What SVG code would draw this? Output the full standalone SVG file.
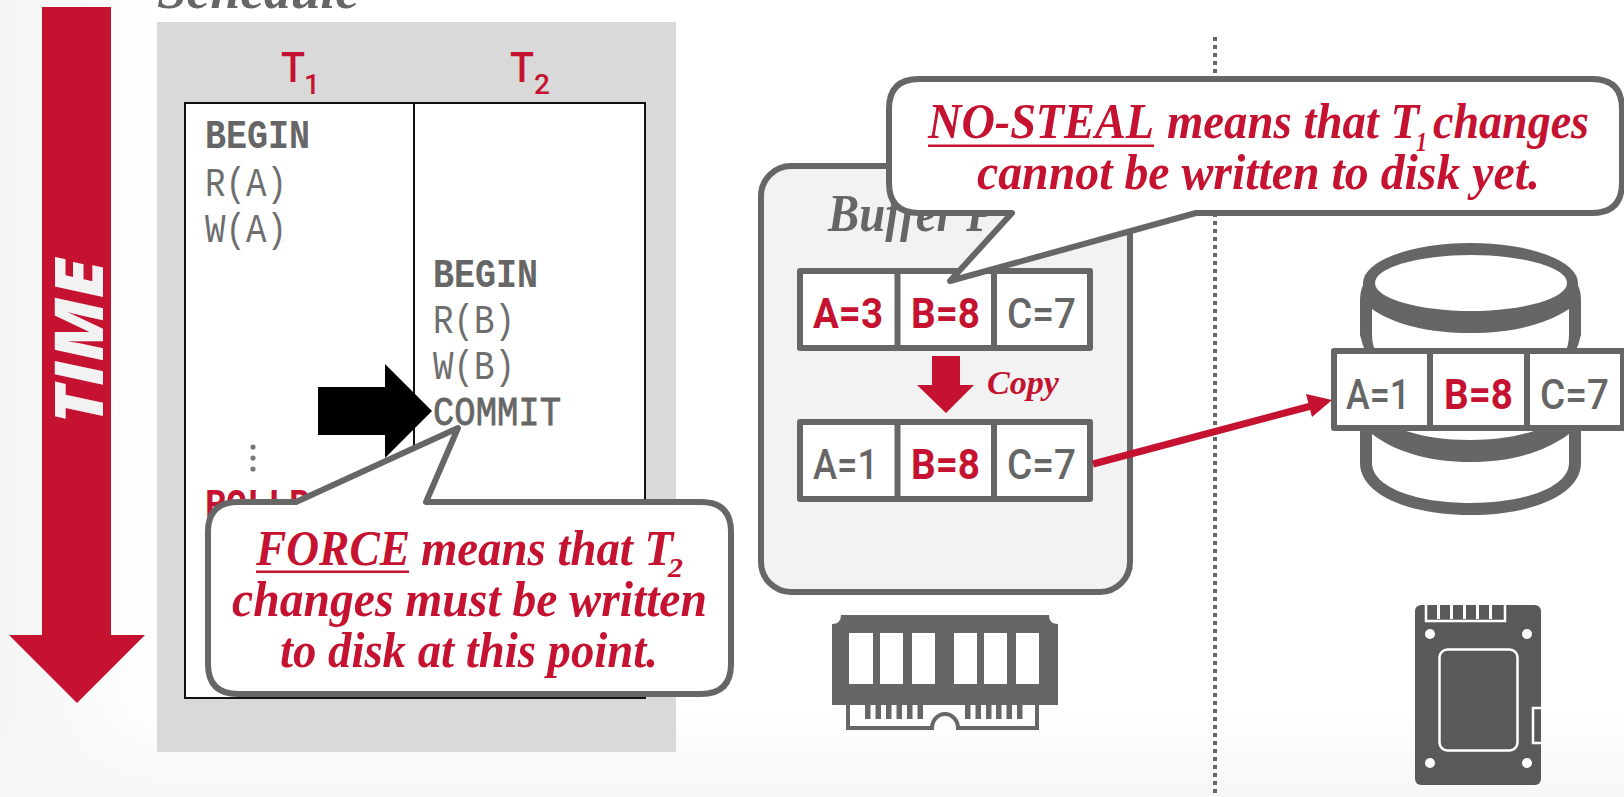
<svg xmlns="http://www.w3.org/2000/svg" width="1624" height="797" viewBox="0 0 1624 797">
<style>
.red{fill:#c41230}.gr{fill:#666}
.mono{font-family:"Liberation Mono","DejaVu Sans Mono",monospace;font-size:41px}
.b{font-weight:700}
.lt{fill:#6e6e6e}
.cell{font-family:Roboto,"Open Sans",sans-serif;font-size:42px;font-weight:500}
.cb{font-weight:700}
.ser{font-family:"Liberation Serif",serif;font-style:italic;font-weight:700}
.call{font-size:50px;fill:#c41230}
.subt{font-family:Roboto,"Open Sans",sans-serif;font-weight:500;fill:#c41230}
.box{fill:#fff;stroke:#666;stroke-width:6;stroke-linejoin:round}
.tb{fill:#fff;stroke:#666;stroke-width:6;stroke-linejoin:round}
</style>
<defs>
<linearGradient id="gl" x1="0" x2="1" y1="0" y2="0"><stop offset="0" stop-color="#f4f4f4"/><stop offset="1" stop-color="#fff"/></linearGradient>
<linearGradient id="gb" x1="0" x2="0" y1="0" y2="1"><stop offset="0" stop-color="#f7f7f7" stop-opacity="0"/><stop offset="1" stop-color="#f7f7f7"/></linearGradient>
</defs>
<rect width="1624" height="797" fill="#fff"/>
<rect width="160" height="797" fill="url(#gl)"/>
<rect y="700" width="1624" height="97" fill="url(#gb)"/>

<g id="time-arrow">
<polygon class="red" points="42,7 111,7 111,635 145,635 77,703 9,635 42,635"/>
<text transform="translate(103 424) rotate(-90)" font-family="Open Sans, sans-serif" font-style="italic" font-weight="800" font-size="68" fill="#f2f2f2" textLength="165" lengthAdjust="spacingAndGlyphs">TIME</text>
</g>

<g id="divider"><line x1="1215" y1="37" x2="1215" y2="794" stroke="#666" stroke-width="4" stroke-dasharray="4 4"/></g>

<g id="schedule">
<text class="ser gr" x="157" y="8" font-size="54" textLength="202" lengthAdjust="spacingAndGlyphs">Schedule</text>
<rect x="157" y="22" width="519" height="730" fill="#d9d9d9"/>
<rect x="185" y="103" width="460" height="595" fill="#fff" stroke="#111" stroke-width="2"/>
<line x1="414" y1="103" x2="414" y2="698" stroke="#111" stroke-width="2"/>
<text class="subt" x="281" y="82" font-size="42" textLength="24" lengthAdjust="spacingAndGlyphs">T</text><text class="subt" x="304" y="94" font-size="28">1</text>
<text class="subt" x="510" y="82" font-size="42" textLength="24" lengthAdjust="spacingAndGlyphs">T</text><text class="subt" x="534" y="94" font-size="28">2</text>
<text class="mono b gr" x="205" y="148" textLength="105" lengthAdjust="spacingAndGlyphs">BEGIN</text>
<text class="mono lt" x="205" y="196" textLength="82" lengthAdjust="spacingAndGlyphs">R(A)</text>
<text class="mono lt" x="205" y="242" textLength="82" lengthAdjust="spacingAndGlyphs">W(A)</text>
<text class="mono b gr" x="433" y="287" textLength="105" lengthAdjust="spacingAndGlyphs">BEGIN</text>
<text class="mono lt" x="433" y="333" textLength="82" lengthAdjust="spacingAndGlyphs">R(B)</text>
<text class="mono lt" x="433" y="379" textLength="82" lengthAdjust="spacingAndGlyphs">W(B)</text>
<text class="mono gr" x="433" y="425" textLength="128" lengthAdjust="spacingAndGlyphs" stroke="#666" stroke-width="0.8">COMMIT</text>
<circle cx="253" cy="447" r="2.6" fill="#777"/><circle cx="253" cy="458" r="2.6" fill="#777"/><circle cx="253" cy="469" r="2.6" fill="#777"/>
<text class="mono b red" x="205" y="517" textLength="105" lengthAdjust="spacingAndGlyphs">ROLLB</text>
</g>

<g id="pointer"><polygon points="318,387 385,387 385,364 432,411 385,458 385,435 318,435" fill="#000"/></g>

<g id="force-callout">
<path class="box" d="M238,502 H296 L458,428 L426,502 H701 Q731,502 731,532 V664 Q731,694 701,694 H238 Q208,694 208,664 V532 Q208,502 238,502 Z"/>
<text class="ser call" x="256" y="565" textLength="154" lengthAdjust="spacingAndGlyphs">FORCE</text>
<rect x="256" y="570.500" width="153" height="2.500" fill="#c41230"/>
<text class="ser call" x="421" y="565" textLength="252" lengthAdjust="spacingAndGlyphs">means that T</text>
<text class="ser" x="668" y="577" font-size="28" fill="#c41230" textLength="15" lengthAdjust="spacingAndGlyphs">2</text>
<text class="ser call" x="232" y="616" textLength="475" lengthAdjust="spacingAndGlyphs">changes must be written</text>
<text class="ser call" x="280" y="667" textLength="378" lengthAdjust="spacingAndGlyphs">to disk at this point.</text>
</g>

<g id="buffer-pool">
<rect x="761" y="166" width="369" height="426" rx="30" fill="#f2f2f2" stroke="#666" stroke-width="6"/>
<text class="ser gr" x="828" y="231" font-size="52" textLength="167" lengthAdjust="spacingAndGlyphs">Buffer P</text>
</g>

<g id="table-top">
<rect class="tb" x="800" y="271" width="290" height="77"/><line class="tb" x1="897.500" y1="271" x2="897.500" y2="348"/><line class="tb" x1="994" y1="271" x2="994" y2="348"/>
<text class="cell cb red" x="813" y="328" textLength="70" lengthAdjust="spacingAndGlyphs">A=3</text>
<text class="cell cb red" x="911" y="328" textLength="69" lengthAdjust="spacingAndGlyphs">B=8</text>
<text class="cell gr" x="1007" y="328" textLength="69" lengthAdjust="spacingAndGlyphs">C=7</text>
</g>

<g id="copy-arrow">
<polygon class="red" points="932,356 960,356 960,385 974,385 946,413 917,385 932,385"/>
<text class="ser" x="987" y="394" font-size="34" fill="#c41230" textLength="72" lengthAdjust="spacingAndGlyphs">Copy</text>
</g>

<g id="table-bottom">
<rect class="tb" x="800" y="422" width="290" height="77"/><line class="tb" x1="897.500" y1="422" x2="897.500" y2="499"/><line class="tb" x1="994" y1="422" x2="994" y2="499"/>
<text class="cell gr" x="813" y="479" textLength="65" lengthAdjust="spacingAndGlyphs">A=1</text>
<text class="cell cb red" x="911" y="479" textLength="69" lengthAdjust="spacingAndGlyphs">B=8</text>
<text class="cell gr" x="1007" y="479" textLength="69" lengthAdjust="spacingAndGlyphs">C=7</text>
</g>

<g id="disk">
<path fill="#666" d="M1360,300 Q1360,288 1366,280 H1575 Q1581,288 1581,300 V335 Q1579,345 1574,354 H1367 Q1362,345 1360,335 Z"/>
<ellipse cx="1470.500" cy="283" rx="107.500" ry="40" fill="#666"/>
<path fill="#fff" d="M1372,309 C1395,325 1430,333 1470.500,333 C1511,333 1545,325 1569,309 V335 Q1569,345 1564,356 H1377 Q1372,345 1372,335 Z"/>
<ellipse cx="1471" cy="283" rx="96" ry="28" fill="#fff"/>
<path fill="#666" d="M1360,425 V463 C1360,495 1410,515 1470.500,515 C1531,515 1581,495 1581,463 V425 Z"/>
<path fill="#fff" d="M1372,434 C1395,452 1430,462 1470.500,462 C1511,462 1545,452 1569,434 V463 C1569,487 1525,503 1470.500,503 C1416,503 1372,487 1372,463 Z"/>
<path fill="#fff" d="M1406,425 H1534 V431 C1515,437 1495,440 1470,440 C1445,440 1425,437 1406,431 Z"/>
</g>

<g id="table-disk">
<rect class="tb" x="1334" y="351" width="289" height="77"/><line class="tb" x1="1430" y1="351" x2="1430" y2="428"/><line class="tb" x1="1527" y1="351" x2="1527" y2="428"/>
<text class="cell gr" x="1346" y="409" textLength="64" lengthAdjust="spacingAndGlyphs">A=1</text>
<text class="cell cb red" x="1444" y="409" textLength="69" lengthAdjust="spacingAndGlyphs">B=8</text>
<text class="cell gr" x="1540" y="409" textLength="69" lengthAdjust="spacingAndGlyphs">C=7</text>
</g>

<g id="connectors">
<line x1="1093" y1="464" x2="1315" y2="405" stroke="#c41230" stroke-width="7"/>
<polygon class="red" points="1332,400 1306,394 1312,417"/>
</g>

<g id="no-steal-callout">
<path class="box" d="M919,79 H1592 Q1622,79 1622,109 V183 Q1622,213 1592,213 H1196 L950,281 L1012,213 H919 Q889,213 889,183 V109 Q889,79 919,79 Z"/>
<text class="ser call" x="928" y="138" textLength="226" lengthAdjust="spacingAndGlyphs">NO-STEAL</text>
<rect x="928" y="144.500" width="226" height="2.500" fill="#c41230"/>
<text class="ser call" x="1167" y="138" textLength="252" lengthAdjust="spacingAndGlyphs">means that T</text>
<text class="ser" x="1416" y="151" font-size="28" fill="#c41230" textLength="11" lengthAdjust="spacingAndGlyphs">1</text>
<text class="ser call" x="1433" y="138" textLength="156" lengthAdjust="spacingAndGlyphs">changes</text>
<text class="ser call" x="977" y="189" textLength="563" lengthAdjust="spacingAndGlyphs">cannot be written to disk yet.</text>
</g>

<g id="ram-icon" fill="#666">
<path d="M841,615 H1049 Q1049,624 1058,624 V705 H832 V624 Q841,624 841,615 Z"/>
<g fill="#fff"><rect x="849" y="633" width="24" height="51"/><rect x="880" y="633" width="23" height="51"/><rect x="912" y="633" width="23" height="51"/><rect x="954" y="633" width="23" height="51"/><rect x="984" y="633" width="23" height="51"/><rect x="1016" y="633" width="23" height="51"/></g>
<path fill="none" stroke="#666" stroke-width="4" d="M848,705 V728 H932 A13,14 0 0 1 958,728 H1037 V705"/>
<rect x="865" y="705" width="5.500" height="14"/><rect x="875.500" y="705" width="5.500" height="14"/><rect x="886" y="705" width="5.500" height="14"/><rect x="896.500" y="705" width="5.500" height="14"/><rect x="907" y="705" width="5.500" height="14"/><rect x="917.500" y="705" width="5.500" height="14"/>
<rect x="965" y="705" width="5.500" height="14"/><rect x="975.500" y="705" width="5.500" height="14"/><rect x="986" y="705" width="5.500" height="14"/><rect x="996" y="705" width="5.500" height="14"/><rect x="1006.500" y="705" width="5.500" height="14"/><rect x="1017" y="705" width="5.500" height="14"/>
</g>

<g id="ssd-icon">
<rect x="1415" y="605" width="126" height="180" rx="6" fill="#595959"/>
<path d="M1426,605 V621 H1505 V605" fill="none" stroke="#fff" stroke-width="2.500"/>
<g fill="#fff"><rect x="1437" y="605" width="3" height="14"/><rect x="1450" y="605" width="3" height="14"/><rect x="1463" y="605" width="3" height="14"/><rect x="1476" y="605" width="3" height="14"/><rect x="1489" y="605" width="3" height="14"/></g>
<g fill="#fff"><circle cx="1430" cy="634" r="5"/><circle cx="1527" cy="634" r="5"/><circle cx="1430" cy="763" r="5"/><circle cx="1527" cy="763" r="5"/></g>
<rect x="1439.500" y="649.500" width="78" height="101" rx="8" fill="none" stroke="#fff" stroke-width="2.500"/>
<path d="M1541,708 H1533 V743 H1541" fill="none" stroke="#fff" stroke-width="2.500"/>
</g>
</svg>
